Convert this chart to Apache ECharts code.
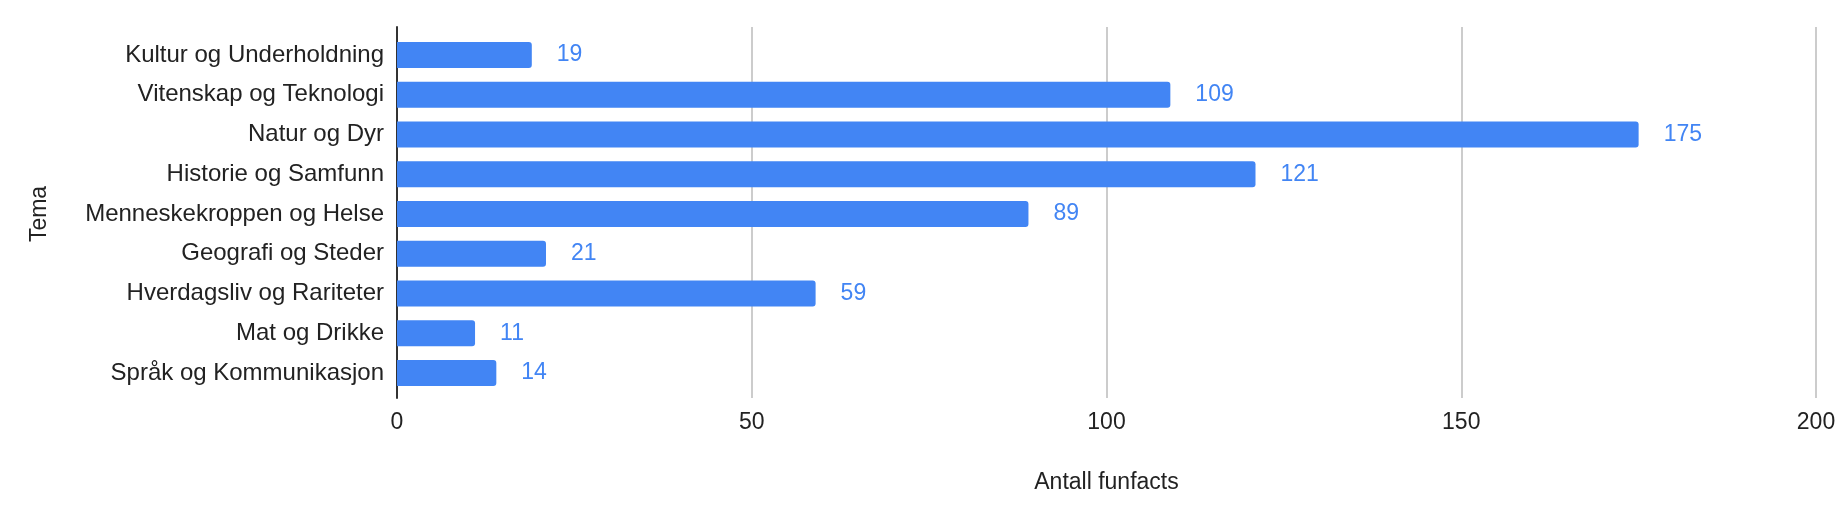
<!DOCTYPE html>
<html>
<head>
<meta charset="utf-8">
<script src="https://cdn.jsdelivr.net/npm/echarts@6/dist/echarts.min.js"></script>
<style>
  html, body { margin: 0; padding: 0; background: #fff; }
  #chart { width: 1844px; height: 522px; }
</style>
</head>
<body>
<div id="chart"></div>
<script>
// temaer, ovenfra og ned
var categories = [
    'Kultur og Underholdning',
    'Vitenskap og Teknologi',
    'Natur og Dyr',
    'Historie og Samfunn',
    'Menneskekroppen og Helse',
    'Geografi og Steder',
    'Hverdagsliv og Rariteter',
    'Mat og Drikke',
    'Språk og Kommunikasjon'
];
var counts = [19, 109, 175, 121, 89, 21, 59, 11, 14];
var xTicks = [0, 50, 100, 150, 200];

var font = '"Liberation Sans", Arial, sans-serif';
var blue = '#4285f4';
var xMin = xTicks[0], xMax = xTicks[xTicks.length - 1], xStep = xTicks[1] - xTicks[0];

var option = {
    animation: false,
    grid: [
        // søylene
        { left: 397, right: 28, top: 35, bottom: 129 },
        // rutenett og aksestrek, litt høyere enn søyleområdet
        { left: 397, right: 28, top: 27, bottom: 124 }
    ],
    xAxis: [
        {
            gridIndex: 0,
            type: 'value',
            min: xMin, max: xMax, interval: xStep,
            name: 'Antall funfacts',
            nameLocation: 'middle',
            nameGap: 78,
            nameTextStyle: { color: '#222', fontSize: 23, fontFamily: font },
            axisLine: { show: false },
            axisTick: { show: false },
            axisLabel: { color: '#222', fontSize: 23, fontFamily: font, margin: 18 },
            splitLine: { show: false }
        },
        {
            gridIndex: 1,
            type: 'value',
            min: xMin, max: xMax, interval: xStep,
            axisLine: { show: false },
            axisTick: { show: false },
            axisLabel: { show: false },
            splitLine: { lineStyle: { color: '#cccccc', width: 2 } }
        }
    ],
    yAxis: [
        {
            gridIndex: 0,
            type: 'category',
            data: categories,
            inverse: true,
            name: 'Tema',
            nameLocation: 'middle',
            nameGap: 346,
            nameRotate: 90,
            nameTextStyle: { color: '#222', fontSize: 23, fontFamily: font },
            axisLine: { show: false },
            axisTick: { show: false },
            axisLabel: { color: '#222', fontSize: 24, fontFamily: font, margin: 13 },
            splitLine: { show: false }
        },
        {
            gridIndex: 1,
            type: 'category',
            data: [],
            axisLine: { show: true, lineStyle: { color: '#333', width: 2 } },
            axisTick: { show: false },
            axisLabel: { show: false },
            splitLine: { show: false }
        }
    ],
    series: [
        {
            type: 'bar',
            xAxisIndex: 0,
            yAxisIndex: 0,
            data: counts,
            barWidth: 26,
            z: 3,
            itemStyle: { color: blue, borderRadius: [0, 3, 3, 0] },
            label: {
                show: true,
                position: 'right',
                distance: 25,
                color: blue,
                fontSize: 23,
                fontFamily: font
            }
        }
    ]
};

echarts.init(document.getElementById('chart')).setOption(option);
</script>
</body>
</html>
